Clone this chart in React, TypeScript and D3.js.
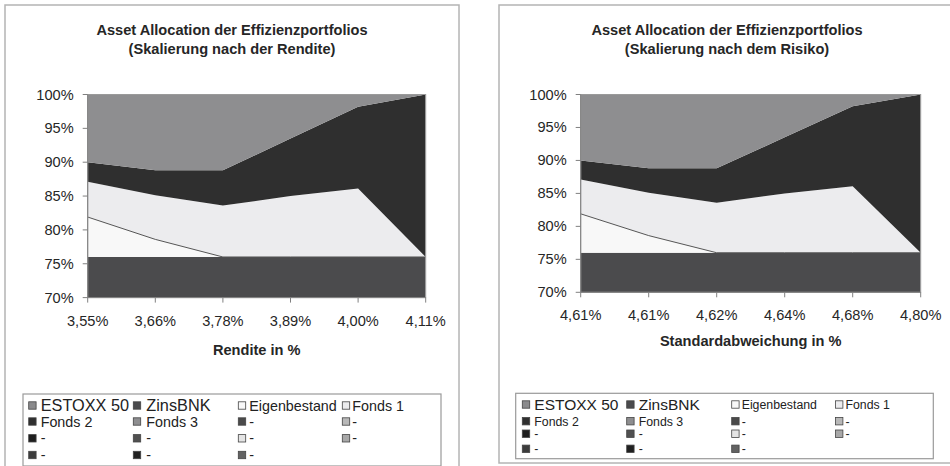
import React from "react";
import * as d3 from "d3";

// ---- data ----
const seriesNames = ["ESTOXX 50", "ZinsBNK", "Eigenbestand", "Fonds 1", "Fonds 2", "Fonds 3"];
const estoxx50 = [0, 0, 0, 0, 0, 0];
const zinsBNK = [76, 76, 76, 76, 76, 76];
const eigenbestand = [5.9, 2.6, 0, 0, 0, 0];
const fonds1 = [5.2, 6.5, 7.6, 9.0, 10.1, 0];
const fonds2 = [2.9, 3.7, 5.2, 8.5, 12.1, 24];
const fonds3 = [10.0, 11.2, 11.2, 6.5, 1.8, 0];
const renditeLabels = ["3,55%", "3,66%", "3,78%", "3,89%", "4,00%", "4,11%"];
const risikoLabels = ["4,61%", "4,61%", "4,62%", "4,64%", "4,68%", "4,80%"];
const yTicks = [70, 75, 80, 85, 90, 95, 100];
const seriesColors = ["#8a8a8c", "#4b4b4d", "#f8f8f8", "#ececee", "#2f2f2f", "#8e8e90"];
const legendNames = [...seriesNames, "-", "-", "-", "-", "-", "-", "-", "-", "-"];
const legendColors = [
  ...seriesColors,
  "#4a4a4a", "#b8b8b8",
  "#1e1e1e", "#505050", "#e4e4e4", "#a8a8a8",
  "#3c3c3c", "#202020", "#626262",
];
const titleLine1 = "Asset Allocation der Effizienzportfolios";

const FONT = "'Liberation Sans', Arial, Helvetica, sans-serif";
const TXT = "#262626";

type Cfg = {
  id: string;
  frame: { x: number; y: number; w: number; h: number };
  plot: { x0: number; x1: number; yTop: number; yBot: number };
  titleCx: number;
  title2: string;
  xLabels: string[];
  xLabelBase: number;
  axisTitle: string;
  axisTitleBase: number;
  legend: { x: number; y: number; w: number; h: number };
  colX: number[];
  textOff: number[];
  rowY: number[];
  bigFont: number;
  smallFont: number;
};

const rows = estoxx50.map((_, i) => ({
  "ESTOXX 50": estoxx50[i],
  ZinsBNK: zinsBNK[i],
  Eigenbestand: eigenbestand[i],
  "Fonds 1": fonds1[i],
  "Fonds 2": fonds2[i],
  "Fonds 3": fonds3[i],
  idx: i,
}));

function Chart({ c }: { c: Cfg }) {
  const x = d3.scalePoint<number>().domain(rows.map((r) => r.idx)).range([c.plot.x0, c.plot.x1]);
  const y = d3.scaleLinear().domain([70, 100]).range([c.plot.yBot, c.plot.yTop]);
  const stacked = d3.stack<any>().keys(seriesNames)(rows as any);
  const area = d3
    .area<any>()
    .x((d) => x(d.data.idx) as number)
    .y0((d) => y(d[0]))
    .y1((d) => y(d[1]));
  const topLine = d3
    .line<any>()
    .x((d) => x(d.data.idx) as number)
    .y((d) => y(d[1]));
  const pw = c.plot.x1 - c.plot.x0;
  const ph = c.plot.yBot - c.plot.yTop;
  return (
    <g>
      <rect x={c.frame.x} y={c.frame.y} width={c.frame.w} height={c.frame.h} fill="#fff" stroke="#b4b4b4" strokeWidth={1.5} />
      <text x={c.titleCx} y={34.5} textAnchor="middle" fontFamily={FONT} fontWeight="bold" fontSize={14.6} fill={TXT}>
        {titleLine1}
      </text>
      <text x={c.titleCx} y={53.5} textAnchor="middle" fontFamily={FONT} fontWeight="bold" fontSize={14.6} fill={TXT}>
        {c.title2}
      </text>
      <defs>
        <clipPath id={`clip-${c.id}`}>
          <rect x={c.plot.x0} y={c.plot.yTop} width={pw} height={ph} />
        </clipPath>
      </defs>
      <g clipPath={`url(#clip-${c.id})`}>
        {stacked.map((s, i) => (
          <path key={i} d={area(s) || ""} fill={seriesColors[i]} stroke="none" />
        ))}
        <path d={topLine(stacked[2]) || ""} fill="none" stroke="#555" strokeWidth={1} />
      </g>
      <rect x={c.plot.x0} y={c.plot.yTop} width={pw} height={ph} fill="none" stroke="#9a9a9a" strokeWidth={1} />
      <line x1={c.plot.x0} x2={c.plot.x0} y1={c.plot.yTop} y2={c.plot.yBot} stroke="#808080" />
      <line x1={c.plot.x0} x2={c.plot.x1} y1={c.plot.yBot} y2={c.plot.yBot} stroke="#808080" />
      {yTicks.map((t) => (
        <g key={t}>
          <line x1={c.plot.x0 - 5} x2={c.plot.x0} y1={y(t)} y2={y(t)} stroke="#808080" />
          <text x={c.plot.x0 - 14} y={y(t) + 5} textAnchor="end" fontFamily={FONT} fontSize={14.6} fill={TXT}>
            {`${t}%`}
          </text>
        </g>
      ))}
      {rows.map((r) => (
        <g key={r.idx}>
          <line x1={x(r.idx)} x2={x(r.idx)} y1={c.plot.yBot} y2={c.plot.yBot + 5} stroke="#808080" />
          <text x={x(r.idx)} y={c.xLabelBase} textAnchor="middle" fontFamily={FONT} fontSize={14.6} fill={TXT}>
            {c.xLabels[r.idx]}
          </text>
        </g>
      ))}
      <text x={(c.plot.x0 + c.plot.x1) / 2} y={c.axisTitleBase} textAnchor="middle" fontFamily={FONT} fontWeight="bold" fontSize={14.6} fill={TXT}>
        {c.axisTitle}
      </text>
      <rect x={c.legend.x} y={c.legend.y} width={c.legend.w} height={c.legend.h} fill="#fff" stroke="#9a9a9a" strokeWidth={1.2} />
      {legendNames.map((n, i) => {
        const col = i % 4;
        const row = Math.floor(i / 4);
        const cy = c.rowY[row];
        const fs = i < 2 ? c.bigFont : c.smallFont;
        return (
          <g key={i}>
            <rect x={c.colX[col]} y={cy - 3.7} width={7.4} height={7.4} fill={legendColors[i]} stroke="#444" strokeWidth={0.8} />
            <text x={c.colX[col] + c.textOff[col]} y={cy + fs * 0.36} fontFamily={FONT} fontSize={fs} fill="#222">
              {n}
            </text>
          </g>
        );
      })}
    </g>
  );
}

const leftCfg: Cfg = {
  id: "l",
  frame: { x: 5, y: 5, w: 454, h: 470 },
  plot: { x0: 87.7, x1: 425.7, yTop: 94.5, yBot: 297.6 },
  titleCx: 232,
  title2: "(Skalierung nach der Rendite)",
  xLabels: renditeLabels,
  xLabelBase: 326,
  axisTitle: "Rendite in %",
  axisTitleBase: 355,
  legend: { x: 23, y: 394, w: 418, h: 72 },
  colX: [28.7, 133.3, 238.3, 342.3],
  textOff: [12, 13, 11, 10],
  rowY: [405.5, 421.5, 438.3, 455],
  bigFont: 16.3,
  smallFont: 14.3,
};

const rightCfg: Cfg = {
  id: "r",
  frame: { x: 499, y: 5, w: 470, h: 458 },
  plot: { x0: 580.7, x1: 920.7, yTop: 94.5, yBot: 292.3 },
  titleCx: 727,
  title2: "(Skalierung nach dem Risiko)",
  xLabels: risikoLabels,
  xLabelBase: 320,
  axisTitle: "Standardabweichung in %",
  axisTitleBase: 346,
  legend: { x: 515.7, y: 393.3, w: 417.6, h: 65.4 },
  colX: [522.3, 626.7, 731.7, 835.5],
  textOff: [12, 12, 10, 10],
  rowY: [404.5, 421.2, 433.7, 448.8],
  bigFont: 15.5,
  smallFont: 12.3,
};

export default function App() {
  return (
    <svg
      width={950}
      height={466}
      viewBox="0 0 950 466"
      style={{ position: "absolute", left: 0, top: 0, background: "#fff" }}
    >
      <rect x={0} y={0} width={950} height={466} fill="#fff" />
      <Chart c={leftCfg} />
      <Chart c={rightCfg} />
    </svg>
  );
}
